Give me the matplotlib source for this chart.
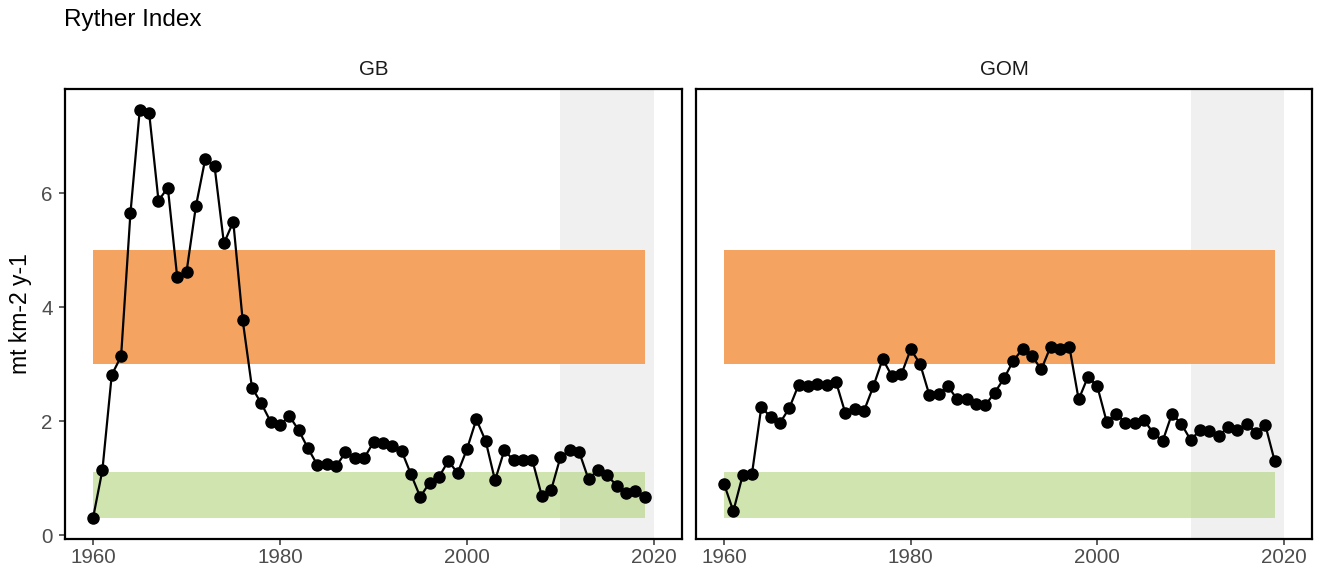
import numpy as np
import matplotlib
matplotlib.use('Agg')
import matplotlib.pyplot as plt

plt.rcParams['font.family'] = ['Liberation Sans', 'DejaVu Sans']

YEARS = list(range(1960, 2020))

GB = [0.30, 1.14, 2.81, 3.14, 5.65, 7.47, 7.41, 5.87, 6.10, 4.53,
      4.62, 5.77, 6.60, 6.47, 5.12, 5.50, 3.78, 2.59, 2.31, 1.99,
      1.93, 2.09, 1.84, 1.52, 1.23, 1.25, 1.21, 1.45, 1.36, 1.35,
      1.63, 1.61, 1.56, 1.48, 1.07, 0.67, 0.92, 1.02, 1.30, 1.09,
      1.51, 2.03, 1.65, 0.96, 1.49, 1.31, 1.31, 1.31, 0.69, 0.79,
      1.37, 1.49, 1.46, 0.98, 1.14, 1.05, 0.87, 0.73, 0.77, 0.67]

GOM = [0.90, 0.42, 1.05, 1.08, 2.25, 2.07, 1.97, 2.23, 2.64, 2.61,
       2.65, 2.64, 2.69, 2.14, 2.21, 2.18, 2.61, 3.09, 2.79, 2.82,
       3.26, 3.01, 2.46, 2.47, 2.61, 2.38, 2.38, 2.30, 2.28, 2.50,
       2.75, 3.06, 3.27, 3.14, 2.91, 3.31, 3.27, 3.31, 2.38, 2.78,
       2.61, 1.99, 2.13, 1.97, 1.97, 2.02, 1.79, 1.65, 2.13, 1.95,
       1.67, 1.84, 1.83, 1.74, 1.89, 1.84, 1.95, 1.80, 1.93, 1.30]

REGIONS = ['GB', 'GOM']
SERIES = [GB, GOM]

# reference bands (mt km-2 y-1)
BAND_YEARS = [1960, 2019]
HIGH_BAND = (3.0, 5.0)
LOW_BAND = (0.3, 1.1)
RECENT = (2010, 2020)

W, H = 1320, 569
fig = plt.figure(figsize=(W / 100, H / 100), dpi=100)
fig.patch.set_facecolor('white')

boxes = [(65, 682), (696, 1312)]
top_px, bot_px = 89, 538.5

axes = []
for i, ((x0, x1), region, vals) in enumerate(zip(boxes, REGIONS, SERIES)):
    ax = fig.add_axes([x0 / W, 1 - bot_px / H, (x1 - x0) / W, (bot_px - top_px) / H])
    axes.append(ax)

    ax.axvspan(RECENT[0], RECENT[1], color='#F0F0F0', lw=0, zorder=1)
    ax.fill_between(BAND_YEARS, HIGH_BAND[0], HIGH_BAND[1],
                    color='#F4A460', lw=0, zorder=2)
    ax.fill_between(BAND_YEARS, LOW_BAND[0], LOW_BAND[1],
                    color='#B1D27B', alpha=0.6, lw=0, zorder=2)

    ax.plot(YEARS, vals, color='black', lw=1.6, zorder=4)
    ax.plot(YEARS, vals, 'o', color='black', ms=8, zorder=5)

    ax.set_xlim(1957, 2023)
    ax.set_ylim(-0.06, 7.83)
    ax.set_xticks([1960, 1980, 2000, 2020])
    ax.set_yticks([0, 2, 4, 6])
    for s in ax.spines.values():
        s.set_linewidth(1.6)
        s.set_color('black')
    ax.tick_params(axis='both', colors='#333333', labelcolor='#4D4D4D',
                   labelsize=14.8, length=4, width=1.1)
    ax.tick_params(axis='x', pad=2.5)
    ax.tick_params(axis='y', pad=5)
    if i > 0:
        ax.tick_params(axis='y', left=False, labelleft=False)

    ax.text(0.5, 1 + 19 / (bot_px - top_px), region, transform=ax.transAxes,
            ha='center', va='center', fontsize=14.8, color='#1A1A1A')

fig.text(21 / W, 1 - (top_px + bot_px) / 2 / H, 'mt km-2 y-1', rotation=90,
         ha='center', va='center', fontsize=16.5, color='black')
fig.text(64 / W, 1 - 20 / H, 'Ryther Index', ha='left', va='center',
         fontsize=17.5, color='black')

fig.savefig('out.png', dpi=100, facecolor='white')
